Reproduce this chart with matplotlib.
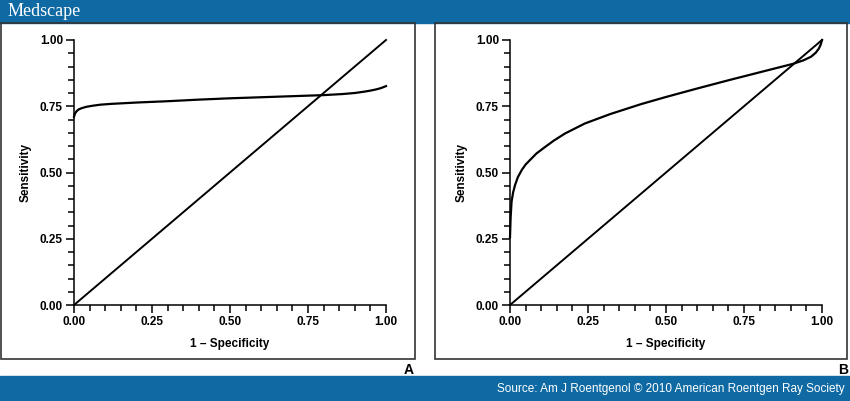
import matplotlib.pyplot as plt
from matplotlib.patches import Rectangle
from matplotlib.ticker import MultipleLocator

# ROC curve A (1 - specificity, sensitivity)
fpr_a = [0.0, 0.003, 0.008, 0.015, 0.025, 0.04, 0.06, 0.085, 0.12, 0.2, 0.3,
         0.4, 0.5, 0.6, 0.7, 0.8, 0.86, 0.9, 0.93, 0.95, 0.97, 0.985, 1.0]
tpr_a = [0.71, 0.722, 0.731, 0.738, 0.743, 0.748, 0.752, 0.756, 0.759, 0.764,
         0.769, 0.775, 0.780, 0.784, 0.788, 0.792, 0.796, 0.800, 0.805, 0.809,
         0.814, 0.819, 0.826]

# ROC curve B
fpr_b = [0.0, 0.002, 0.005, 0.01, 0.016, 0.025, 0.038, 0.05, 0.064, 0.085,
         0.112, 0.14, 0.176, 0.24, 0.32, 0.42, 0.5, 0.6, 0.7, 0.8, 0.86, 0.907,
         0.94, 0.965, 0.98, 0.99, 0.996, 1.0]
tpr_b = [0.255, 0.33, 0.39, 0.425, 0.452, 0.482, 0.51, 0.53, 0.547, 0.572,
         0.596, 0.62, 0.647, 0.685, 0.72, 0.758, 0.785, 0.817, 0.848, 0.878,
         0.896, 0.91, 0.923, 0.937, 0.952, 0.968, 0.983, 1.0]

diag = [0.0, 1.0]
ticks = [0.0, 0.25, 0.5, 0.75, 1.0]

plt.rcParams['font.family'] = ['Liberation Sans', 'DejaVu Sans']

fig = plt.figure(figsize=(8.5, 4.01), dpi=100)
W, H = 850, 401


def fx(px):
    return px / W


def fy(py):
    return 1 - py / H


blue = '#0f6aa4'
# banners
fig.patches.append(Rectangle((0, fy(23)), 1, 23 / H, transform=fig.transFigure,
                             color=blue, zorder=0))
fig.patches.append(Rectangle((0, 0), 1, 25 / H, transform=fig.transFigure,
                             color=blue, zorder=0))
fig.text(fx(8), fy(12), 'Medscape', color='white', fontsize=13,
         family='Liberation Serif', va='center', ha='left')
fig.text(fx(845), fy(389), 'Source: Am J Roentgenol \u00a9 2010 American Roentgen Ray Society',
         color='white', fontsize=8.5, va='center', ha='right')

# panel frames
fig.patches.append(Rectangle((fx(1), fy(359)), fx(414), (359 - 23) / H,
                             transform=fig.transFigure, fill=False,
                             edgecolor='#333333', lw=1.2))
fig.patches.append(Rectangle((fx(435), fy(359)), fx(412), (359 - 23) / H,
                             transform=fig.transFigure, fill=False,
                             edgecolor='#333333', lw=1.2))
fig.text(fx(409), fy(370), 'A', fontsize=10, fontweight='bold', ha='center', va='center')
fig.text(fx(843), fy(370), 'B', fontsize=10, fontweight='bold', ha='center', va='center')

panels = [(74, fpr_a, tpr_a), (510, fpr_b, tpr_b)]
for left, fpr, tpr in panels:
    ax = fig.add_axes([fx(left), fy(305), fx(312), (305 - 40) / H])
    ax.plot(diag, diag, color='black', lw=1.4, clip_on=False)
    ax.plot(fpr, tpr, color='black', lw=1.6, clip_on=False,
            solid_joinstyle='round')
    ax.set_xlim(0, 1)
    ax.set_ylim(0, 1)
    ax.spines['top'].set_visible(False)
    ax.spines['right'].set_visible(False)
    for s in ['left', 'bottom']:
        ax.spines[s].set_linewidth(1.1)
    ax.set_xticks(ticks)
    ax.set_yticks(ticks)
    ax.set_xticklabels(['%.2f' % t for t in ticks])
    ax.set_yticklabels(['%.2f' % t for t in ticks])
    ax.xaxis.set_minor_locator(MultipleLocator(0.05))
    ax.yaxis.set_minor_locator(MultipleLocator(0.05))
    ax.tick_params(which='major', length=6, width=1.1, labelsize=8.5, pad=2)
    ax.tick_params(which='minor', length=4, width=1.1)
    for lab in ax.get_xticklabels() + ax.get_yticklabels():
        lab.set_fontweight('bold')
    ax.set_xlabel('1 \u2013 Specificity', fontsize=8.5, fontweight='bold', labelpad=7)
    ax.set_ylabel('Sensitivity', fontsize=8.5, fontweight='bold', labelpad=6)
    ax.patch.set_alpha(0)

fig.savefig('out.png', dpi=100)
